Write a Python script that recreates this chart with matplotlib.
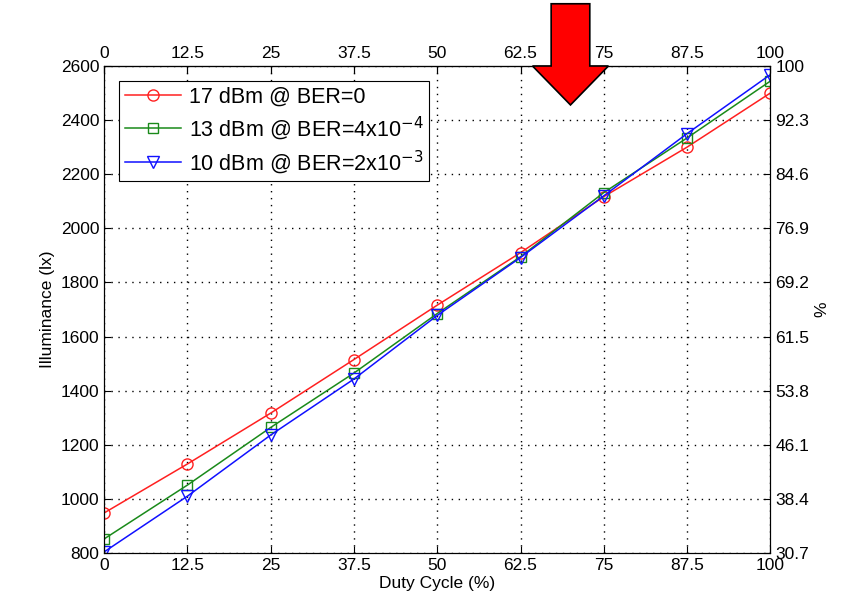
# plot.py
# 照度 vs 占空比 重绘
import matplotlib.pyplot as plt
import numpy as np
from matplotlib.patches import Polygon

plt.rcParams['font.family'] = ['Liberation Sans', 'DejaVu Sans']

###########数据###########
duty = [0, 12.5, 25, 37.5, 50, 62.5, 75, 87.5, 100]
lx_17dbm = [948, 1129, 1317, 1515, 1716, 1910, 2117, 2300, 2500]
lx_13dbm = [852, 1051, 1264, 1465, 1685, 1895, 2132, 2334, 2544]
lx_10dbm = [804, 1010, 1236, 1443, 1678, 1892, 2120, 2350, 2568]
labels = ['17 dBm @ BER=0',
          r'13 dBm @ BER=4x10$^{-4}$',
          r'10 dBm @ BER=2x10$^{-3}$']
left_ticks = [800, 1000, 1200, 1400, 1600, 1800, 2000, 2200, 2400, 2600]
right_labels = ['30.7', '38.4', '46.1', '53.8', '61.5', '69.2', '76.9', '84.6', '92.3', '100']
x_labels = ['0', '12.5', '25', '37.5', '50', '62.5', '75', '87.5', '100']

###########绘图###########
fig = plt.figure(figsize=(8.54, 6.11), dpi=100)
ax = fig.add_axes([0.122, 0.095, 0.780, 0.797])

ax.plot(duty, lx_17dbm, '-o', color='#ff2020', mfc='none', ms=8, lw=1.1, label=labels[0])
ax.plot(duty, lx_13dbm, '-s', color='#1a8a1a', mfc='none', ms=7, lw=1.1, label=labels[1])
ax.plot(duty, lx_10dbm, '-v', color='#1010ff', mfc='none', ms=8, lw=1.1, label=labels[2])

ax.set_xlim(0, 100)
ax.set_ylim(800, 2600)
ax.set_xticks(duty)
ax.set_xticklabels(x_labels)
ax.set_yticks(left_ticks)
ax.tick_params(direction='in', labelsize=12.5, length=5, top=True)
ax.grid(True, color='black', linestyle=(0, (1, 4)), linewidth=1)
ax.set_xlabel('Duty Cycle (%)', fontsize=12.5, labelpad=2)
ax.set_ylabel('Illuminance (lx)', fontsize=12.5)

# 上方x轴
top = ax.secondary_xaxis('top')
top.set_xticks(duty)
top.set_xticklabels(x_labels)
top.tick_params(direction='in', labelsize=12.5, length=5)

# 右侧百分比轴
ax2 = ax.twinx()
ax2.set_ylim(800, 2600)
ax2.set_yticks(left_ticks)
ax2.set_yticklabels(right_labels)
ax2.tick_params(direction='in', labelsize=12.5, length=5)
ax2.set_ylabel('%', fontsize=12.5)

leg = ax.legend(loc='upper left', bbox_to_anchor=(0.0, 1.0), fontsize=15.5,
                fancybox=False, edgecolor='black', framealpha=1,
                handlelength=2.6, handletextpad=0.4, borderpad=0.25,
                labelspacing=0.3, borderaxespad=0.7)
leg.get_frame().set_linewidth(0.8)

# 红色箭头
arrow = Polygon([(67.1, 2830), (72.9, 2830), (72.9, 2600), (75.7, 2600),
                 (70, 2456), (64.3, 2600), (67.1, 2600)],
                closed=True, facecolor='#ff0000', edgecolor='black', lw=1.2,
                clip_on=False, zorder=10)
ax2.add_patch(arrow)

fig.savefig('out.png', dpi=100)
